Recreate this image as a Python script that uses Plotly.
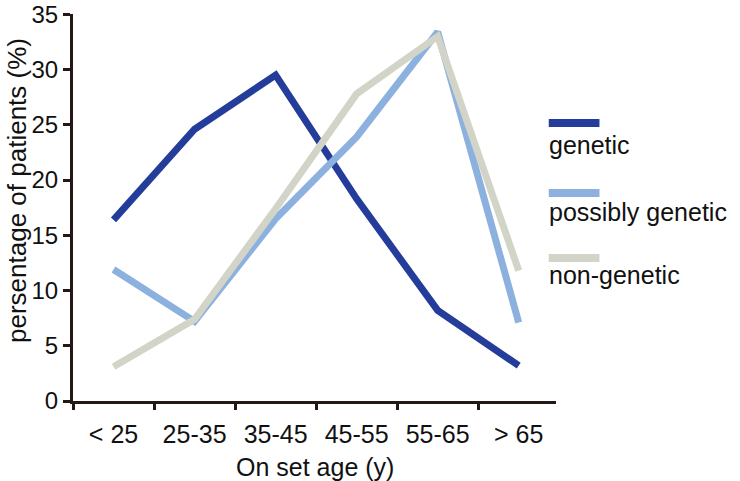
import plotly.graph_objects as go

categories = ["< 25", "25-35", "35-45", "45-55", "55-65", "> 65"]
genetic = [16.4, 24.6, 29.5, 18.3, 8.2, 3.2]
possibly_genetic = [11.9, 7.2, 16.5, 23.9, 33.4, 7.1]
non_genetic = [3.1, 7.4, 17.4, 27.8, 33.0, 11.8]
series_names = ["genetic", "possibly genetic", "non-genetic"]
colors = ["#243d9b", "#8cb1de", "#d3d4c8"]
y_ticks = [0, 5, 10, 15, 20, 25, 30, 35]

FONT = "Liberation Sans, Arial, sans-serif"
AXC = "#231815"
TXT = "#111111"

# plot area: x 73..556, y 14..401 (pixels)
PH = 387.0
def py(pix):
    return (401 - pix) / PH

fig = go.Figure()
for name, vals, col in zip(series_names, [genetic, possibly_genetic, non_genetic], colors):
    fig.add_trace(go.Scatter(x=categories, y=vals, mode="lines", name=name,
                             line=dict(color=col, width=7), showlegend=False))

# custom legend: sample line above text
leg_line_pix = [123, 193, 258]
leg_text_pix = [145, 212, 275]
for name, col, yl, yt in zip(series_names, colors, leg_line_pix, leg_text_pix):
    fig.add_shape(type="line", xref="paper", yref="paper", x0=0.985, x1=1.09, y0=py(yl), y1=py(yl),
                  line=dict(color=col, width=8))
    fig.add_annotation(xref="paper", yref="paper", x=0.982, y=py(yt), text=name, showarrow=False,
                       xanchor="left", yanchor="middle", font=dict(family=FONT, size=25, color=TXT))

# axis titles
fig.add_annotation(xref="paper", yref="paper", x=0.5, y=py(467), text="On set age (y)", showarrow=False,
                   xanchor="center", yanchor="middle", font=dict(family=FONT, size=25, color=TXT))
fig.add_annotation(xref="paper", yref="paper", x=-0.116, y=py(190), text="persentage of patients (%)",
                   showarrow=False, textangle=-90, xanchor="center", yanchor="middle",
                   font=dict(family=FONT, size=26, color=TXT))

fig.update_layout(
    width=740, height=481,
    margin=dict(l=73, r=184, t=14, b=80),
    plot_bgcolor="white", paper_bgcolor="white",
    font=dict(family=FONT, size=24, color=TXT),
    xaxis=dict(
        type="category", range=[-0.5, 5.46], tickson="boundaries", ticks="outside", ticklen=6,
        tickwidth=3, tickcolor=AXC, showline=True, linecolor=AXC, linewidth=3, showgrid=False,
        zeroline=False, automargin=False, ticklabelstandoff=9, ticklabeloverflow="allow",
        tickfont=dict(size=25),
    ),
    yaxis=dict(
        range=[0, 35.03], tickvals=y_ticks, ticks="outside", ticklen=7, tickwidth=3, tickcolor=AXC,
        showline=True, linecolor=AXC, linewidth=3, showgrid=False, zeroline=False, automargin=False,
        ticklabeloverflow="allow", tickfont=dict(size=24),
    ),
)

fig.write_html("out.html", config={"displayModeBar": False},
               post_script="document.body.style.margin='0';document.body.style.overflow='hidden';")
